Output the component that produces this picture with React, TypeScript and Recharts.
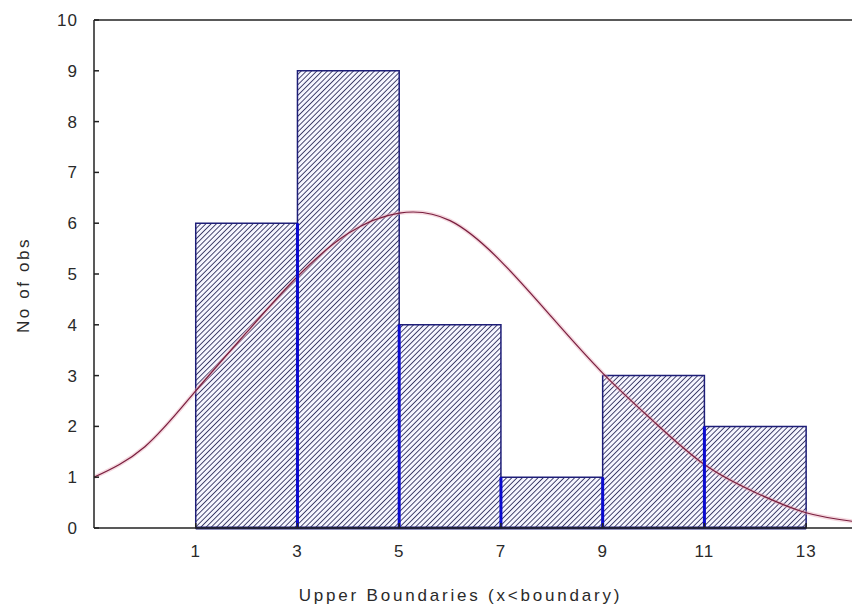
import React from "react"
import {
  ComposedChart,
  XAxis,
  YAxis,
  Line,
  ReferenceArea,
  ReferenceLine,
  Label
} from "recharts"

// ── Data ──────────────────────────────────────────────────────────────────────

const binLower = [1, 3, 5, 7, 9, 11]
const binUpper = [3, 5, 7, 9, 11, 13]
const binCounts = [6, 9, 4, 1, 3, 2]

// fitted normal curve
const curveX = [-1, 0, 1, 2, 3, 4, 5, 6, 7, 8, 9, 10, 11, 12, 13, 14]
const curveY = [1.0, 1.6, 2.7, 3.85, 4.95, 5.8, 6.2, 6.05, 5.25, 4.15, 3.05, 2.1, 1.25, 0.7, 0.3, 0.12]

const xTicks = [1, 3, 5, 7, 9, 11, 13]
const yTicks = [0, 1, 2, 3, 4, 5, 6, 7, 8, 9, 10]

const xLabel = "Upper Boundaries (x<boundary)"
const yLabel = "No of obs"

// ── Style ─────────────────────────────────────────────────────────────────────

const FONT = "'Liberation Sans', Arial, sans-serif"
const AXIS = "#222222"
const NAVY = "#1e1e78"
const BLUE = "#0a0ad0"
const CURVE = "#7a1e3e"

const TICK = { fill: "#2a2a2a", fontSize: 17, fontFamily: FONT, letterSpacing: 1 }

const curveData = curveX.map((x, i) => ({ x, y: curveY[i] }))

// shared bar edges, drawn in bright blue up to the lower neighbour
const sharedEdges = binLower.slice(1).map((x, i) => ({
  x,
  h: Math.min(binCounts[i], binCounts[i + 1])
}))

export default function App() {
  return (
    <div
      style={{
        position: "absolute",
        left: 0,
        top: 0,
        width: 852,
        height: 609,
        overflow: "hidden",
        background: "#ffffff"
      }}
    >
      <ComposedChart
        width={880}
        height={609}
        data={curveData}
        margin={{ top: 0, right: 23, bottom: 0, left: 0 }}
      >
        <defs>
          <pattern
            id="hatch"
            patternUnits="userSpaceOnUse"
            width="3.7"
            height="3.7"
            patternTransform="rotate(45)"
          >
            <rect width="3.7" height="3.7" fill="#f6f6ff" />
            <line x1="0" y1="0" x2="0" y2="3.7" stroke="#1c1c4e" strokeWidth="1.6" />
          </pattern>
        </defs>

        <XAxis
          xAxisId="top"
          orientation="top"
          type="number"
          domain={[-1, 14]}
          ticks={xTicks}
          height={20}
          tick={false}
          tickSize={-5}
          axisLine={{ stroke: AXIS, strokeWidth: 1.5 }}
          tickLine={{ stroke: AXIS, strokeWidth: 1.5 }}
        />
        <XAxis
          dataKey="x"
          type="number"
          domain={[-1, 14]}
          ticks={xTicks}
          allowDataOverflow
          height={81}
          tick={TICK}
          tickSize={-5}
          tickMargin={22}
          axisLine={{ stroke: AXIS, strokeWidth: 1.5 }}
          tickLine={{ stroke: AXIS, strokeWidth: 1.5 }}
        >
          <Label
            value={xLabel}
            position="insideBottom"
            offset={8}
            dx={-15}
            fill="#2a2a2a"
            fontSize={17}
            fontFamily={FONT}
            letterSpacing={2.8}
          />
        </XAxis>
        <YAxis
          type="number"
          domain={[0, 10]}
          ticks={yTicks}
          width={94}
          tick={TICK}
          tickSize={-5}
          tickMargin={21}
          axisLine={{ stroke: AXIS, strokeWidth: 1.5 }}
          tickLine={{ stroke: AXIS, strokeWidth: 1.5 }}
        >
          <Label
            value={yLabel}
            position="center"
            angle={-90}
            dx={-24}
            dy={11}
            fill="#2a2a2a"
            fontSize={17}
            fontFamily={FONT}
            letterSpacing={2.6}
          />
        </YAxis>

        {binLower.map((lo, i) => (
          <ReferenceArea
            key={lo}
            x1={lo}
            x2={binUpper[i]}
            y1={0}
            y2={binCounts[i]}
            fill="url(#hatch)"
            fillOpacity={1}
            stroke={NAVY}
            strokeWidth={1.5}
          />
        ))}

        <Line
          dataKey="y"
          type="natural"
          stroke="#e6a8b8"
          strokeOpacity={0.45}
          strokeWidth={4}
          dot={false}
          activeDot={false}
          isAnimationActive={false}
        />
        <Line
          dataKey="y"
          type="natural"
          stroke={CURVE}
          strokeWidth={1.2}
          dot={false}
          activeDot={false}
          isAnimationActive={false}
        />

        {sharedEdges.map(e => (
          <ReferenceLine
            key={e.x}
            segment={[
              { x: e.x, y: 0 },
              { x: e.x, y: e.h }
            ]}
            stroke={BLUE}
            strokeWidth={3}
          />
        ))}
        <ReferenceLine
          segment={[
            { x: binLower[0], y: 0 },
            { x: binUpper[binUpper.length - 1], y: 0 }
          ]}
          stroke={NAVY}
          strokeWidth={3}
        />
      </ComposedChart>
    </div>
  )
}
